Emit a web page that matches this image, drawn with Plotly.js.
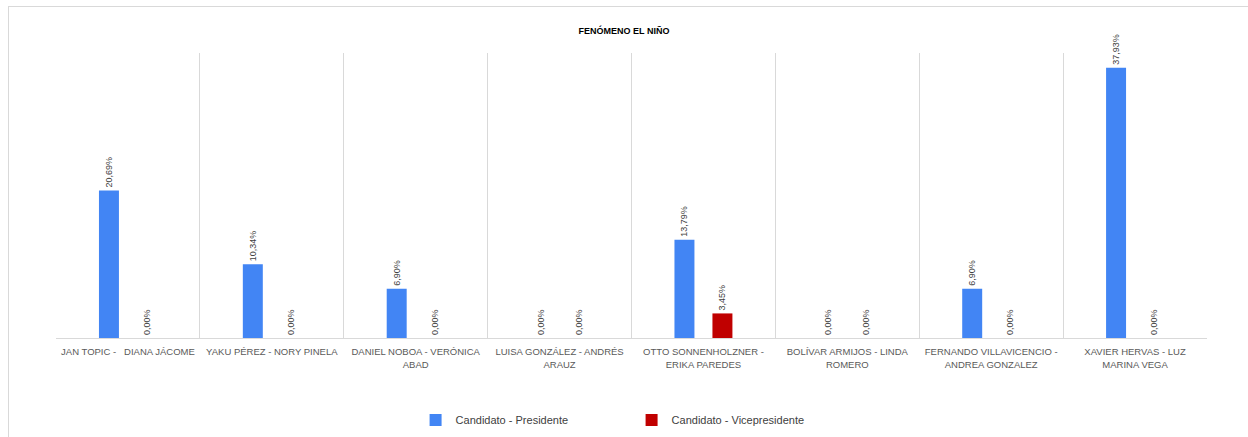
<!DOCTYPE html>
<html>
<head>
<meta charset="utf-8">
<script src="https://cdn.plot.ly/plotly-3.0.1.min.js"></script>
<style>
html,body{margin:0;padding:0;background:#fff;}
#wrap{position:relative;width:1248px;height:437px;}
#chart{position:absolute;left:0;top:0;width:1248px;height:437px;}
#frame{position:absolute;left:8px;top:6px;right:0;bottom:0;border-top:1px solid #d9d9d9;border-left:1px solid #d9d9d9;pointer-events:none;}
</style>
</head>
<body>
<div id="wrap"><div id="chart"></div><div id="frame"></div></div>
<script>
const categories = [
  "JAN TOPIC -   DIANA JÁCOME",
  "YAKU PÉREZ - NORY PINELA",
  "DANIEL NOBOA - VERÓNICA<br>ABAD",
  "LUISA GONZÁLEZ - ANDRÉS<br>ARAUZ",
  "OTTO SONNENHOLZNER -<br>ERIKA PAREDES",
  "BOLÍVAR ARMIJOS - LINDA<br>ROMERO",
  "FERNANDO VILLAVICENCIO -<br>ANDREA GONZALEZ",
  "XAVIER HERVAS - LUZ<br>MARINA VEGA"
];
const presidente = [20.69, 10.34, 6.90, 0.00, 13.79, 0.00, 6.90, 37.93];
const vicepresidente = [0.00, 0.00, 0.00, 0.00, 3.45, 0.00, 0.00, 0.00];
const seriesNames = ["Candidato - Presidente", "Candidato - Vicepresidente"];

const labelFont = {family: "Liberation Sans, Arial, sans-serif", size: 9, color: "#404040"};
const traces = [
  {type: "bar", name: seriesNames[0], x: categories, y: presidente,
   marker: {color: "#4285f4", line: {width: 0}},
   texttemplate: "%{y:.2f}%", textposition: "outside", textangle: -90, constraintext: "none",
   textfont: labelFont, cliponaxis: false, hoverinfo: "skip"},
  {type: "bar", name: seriesNames[1], x: categories, y: vicepresidente,
   marker: {color: "#c00000", line: {width: 0}},
   texttemplate: "%{y:.2f}%", textposition: "outside", textangle: -90, constraintext: "none",
   textfont: labelFont, cliponaxis: false, hoverinfo: "skip"}
];

const layout = {
  width: 1248, height: 437,
  margin: {l: 56, r: 41, t: 53, b: 99, autoexpand: false},
  paper_bgcolor: "#ffffff", plot_bgcolor: "#ffffff",
  separators: ",.",
  barmode: "group", bargap: 0.472, bargroupgap: 0.474,
  title: {text: "<b>FENÓMENO EL NIÑO</b>", x: 0.5, xanchor: "center", y: 0.929, yanchor: "middle",
          font: {family: "Liberation Sans, Arial, sans-serif", size: 9, color: "#000000"}},
  xaxis: {type: "category", tickson: "boundaries", showgrid: true, gridcolor: "#d9d9d9", gridwidth: 1,
          showline: true, linecolor: "#d9d9d9", linewidth: 1, ticks: "", zeroline: false,
          tickangle: 0, ticklabelstandoff: 5,
          tickfont: {family: "Liberation Sans, Arial, sans-serif", size: 9.5, color: "#595959"},
          automargin: false},
  yaxis: {range: [0, 40], visible: false, showgrid: false, zeroline: false, fixedrange: true},
  legend: {orientation: "h", xref: "container", yref: "container", x: 0.333, xanchor: "left",
           y: 0.039, yanchor: "middle",
           font: {family: "Liberation Sans, Arial, sans-serif", size: 11, color: "#404040"},
           entrywidth: 171, traceorder: "normal"},
  showlegend: true
};
Plotly.newPlot("chart", traces, layout, {displayModeBar: false, staticPlot: true});
</script>
</body>
</html>
